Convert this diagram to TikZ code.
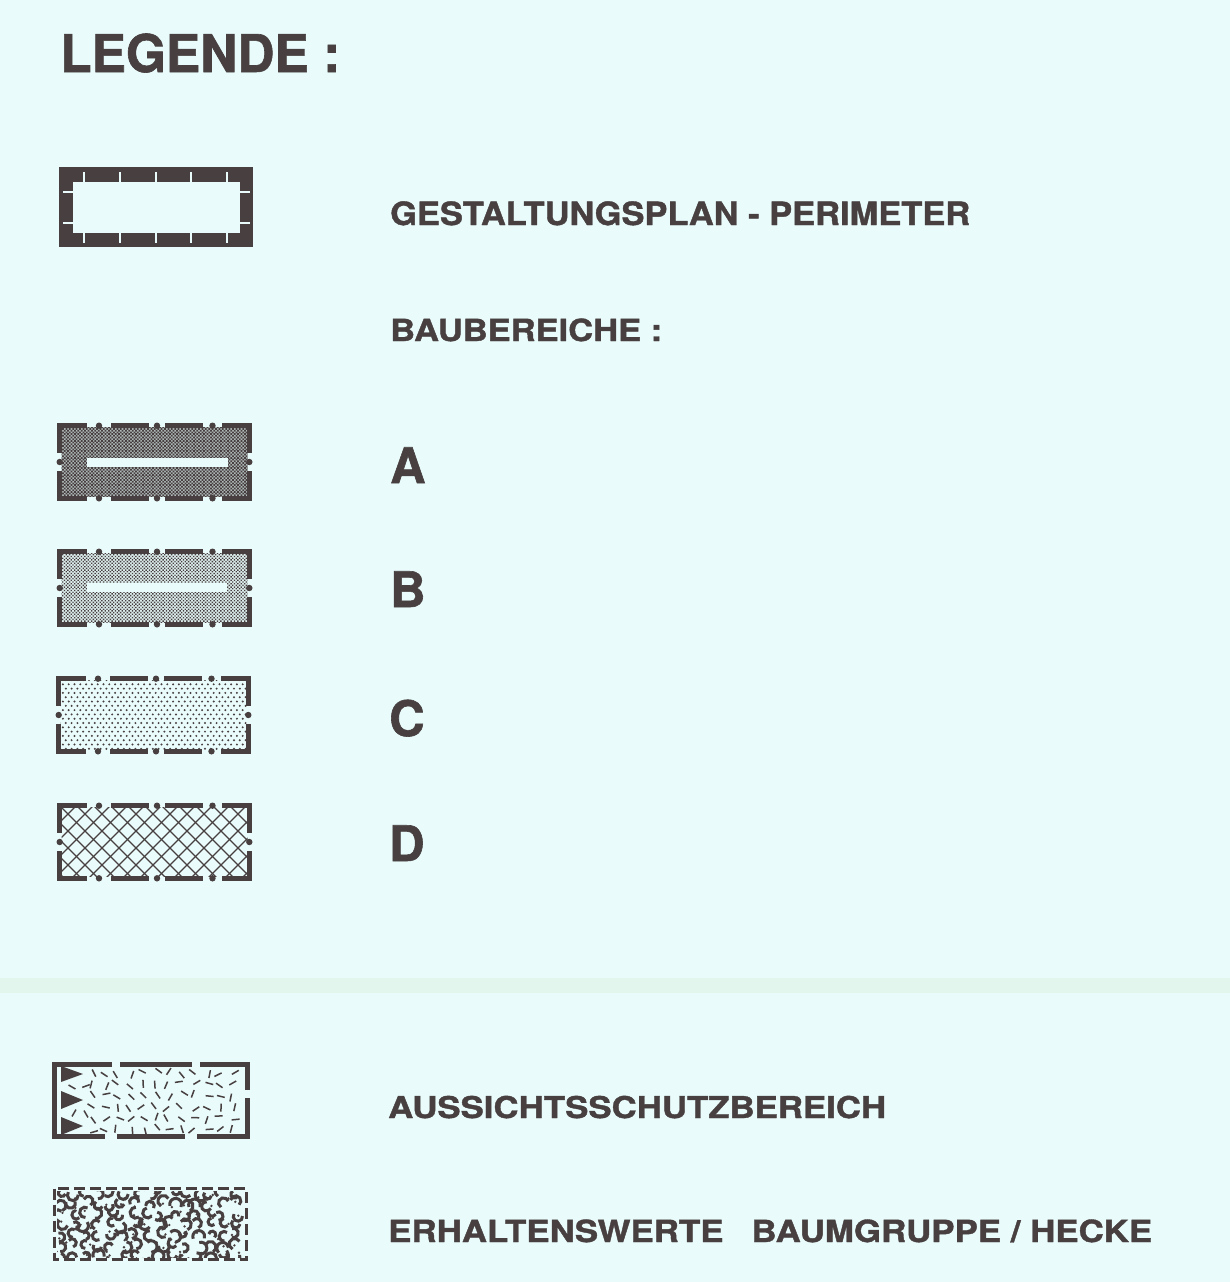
\documentclass[tikz,border=0pt]{standalone}
\usepackage{fontspec}
\setmainfont{TeX Gyre Heros}[BoldFeatures={FakeBold=1.2}]
\usepackage{graphicx}
\definecolor{bg}{RGB}{233,251,251}
\definecolor{band}{RGB}{226,246,238}
\definecolor{ink}{RGB}{72,64,64}
\tikzset{
  bord/.style={draw=ink,line width=5.4pt,line join=miter,line cap=butt},
  tickw/.style={draw=bg,line width=2.6pt},
  hatchl/.style={draw=ink,line width=1.2pt},
  strk/.style={draw=ink,line width=1.5pt},
  blob/.style={draw=ink,line width=3pt},
  lab/.style={anchor=base west,inner sep=0pt,text=ink,font=\bfseries}
}
\newcommand\ddborder[2]{%
\begin{scope}[shift={(#1,#2)}]
 \draw[bord] (30,2.7)--(2.7,2.7)--(2.7,30);
 \draw[bord] (165,2.7)--(192.3,2.7)--(192.3,30);
 \draw[bord] (30,75.3)--(2.7,75.3)--(2.7,48);
 \draw[bord] (165,75.3)--(192.3,75.3)--(192.3,48);
 \draw[bord] (54,2.7)--(92,2.7) (108,2.7)--(146,2.7);
 \draw[bord] (54,75.3)--(92,75.3) (108,75.3)--(146,75.3);
 \fill[ink] (42,2.7) circle (3.2) (100,2.7) circle (3.2) (155.5,2.7) circle (3.2)
            (42,75.3) circle (3.2) (100,75.3) circle (3.2) (155.5,75.3) circle (3.2)
            (2.7,39) circle (3.2) (192.3,39) circle (3.2);
\end{scope}}
% checker fill: #1 = top y, #2 = square size
\newcommand\checkfill[2]{%
 \foreach \j [evaluate=\j as \yy using {#1+\j*1.7}, evaluate=\j as \xo using {57+mod(\j,2)*1.7}] in {0,...,46}
  {\fill[ink] \foreach \i in {0,...,57} {(\xo+\i*3.4,\yy) rectangle ++(#2,#2)};}}
\begin{document}
\begin{tikzpicture}[x=1pt,y=-1pt]
\useasboundingbox (0,0) rectangle (1230,1282);
\fill[bg] (0,0) rectangle (1230,1282);
\fill[band] (0,978) rectangle (1230,993);

% ---------- texts
\node[lab] (legende) at (60,72) {\fontsize{52}{52}\selectfont\resizebox{280pt}{\height}{LEGENDE :}};
\node[lab] (perim) at (390,225) {\fontsize{32}{32}\selectfont\resizebox{580pt}{\height}{GESTALTUNGSPLAN - PERIMETER}};
\node[lab] (baub) at (390,341) {\fontsize{30.5}{30}\selectfont\resizebox{272pt}{\height}{BAUBEREICHE :}};
\node[lab] (la) at (390,483) {\fontsize{49}{49}\selectfont A};
\node[lab] (lb) at (390,607) {\fontsize{49}{49}\selectfont B};
\node[lab] (lc) at (389,736) {\fontsize{49}{49}\selectfont C};
\node[lab] (ld) at (389,861) {\fontsize{49}{49}\selectfont D};
\node[lab] (auss) at (388,1118) {\fontsize{30}{30}\selectfont\resizebox{498pt}{\height}{AUSSICHTSSCHUTZBEREICH}};
\node[lab] (erh) at (388,1242) {\fontsize{30.5}{30}\selectfont\resizebox{764pt}{\height}{ERHALTENSWERTE\hspace{0.8em}BAUMGRUPPE / HECKE}};

% ---------- perimeter symbol
\fill[ink] (59,167) rectangle (253,247);
\fill[bg] (73,182) rectangle (240,233);
\foreach \x in {84,120,156,191,227} {\draw[tickw] (\x,172)--(\x,183); \draw[tickw] (\x,232)--(\x,243);}
\foreach \y in {192,223} {\draw[tickw] (63,\y)--(74,\y); \draw[tickw] (239,\y)--(250,\y);}

% ---------- A
\begin{scope}
 \clip (61.5,427.5) rectangle (247.5,496.5);
 \fill[ink!35!bg] (57,423) rectangle (252,501);
 \checkfill{423}{1.75}
\end{scope}
\fill[bg] (87,458) rectangle (228,467);
\ddborder{57}{423}

% ---------- B
\begin{scope}
 \clip (61.5,553.5) rectangle (247.5,622.5);
 \fill[ink!8!bg] (57,549) rectangle (252,627);
 \checkfill{549}{1.35}
\end{scope}
\fill[bg] (87,583) rectangle (227,592);
\ddborder{57}{549}

% ---------- C
\begin{scope}
 \clip (60.5,680.5) rectangle (246.5,749.5);
 \foreach \j [evaluate=\j as \yy using {680+\j*4.3}, evaluate=\j as \xo using {60+mod(\j,2)*2.9}] in {0,...,17}
  {\fill[ink] \foreach \i in {0,...,33} {(\xo+\i*5.8,\yy) circle (1.1)};}
\end{scope}
\ddborder{56}{676}

% ---------- D
\begin{scope}
 \clip (61.5,807.5) rectangle (247.5,876.5);
 \foreach \k in {-102,-85,...,204} {\draw[hatchl] (57+\k,803)--++(80,80); \draw[hatchl] (57+\k+90,803)--++(-80,80);}
\end{scope}
\ddborder{57}{803}

% ---------- Aussichtsschutzbereich
\draw[bord,line width=5pt] (112,1064.5)--(54.5,1064.5)--(54.5,1136.5)--(105,1136.5);
\draw[bord,line width=5pt] (200,1064.5)--(247.5,1064.5)--(247.5,1090);
\draw[bord,line width=5pt] (247.5,1098)--(247.5,1136.5)--(197,1136.5);
\draw[bord,line width=5pt] (120,1064.5)--(192,1064.5) (117,1136.5)--(185,1136.5);
\fill[ink] (61,1066)--(83,1074)--(61,1082)--cycle
           (61,1091)--(83,1100)--(61,1109)--cycle
           (61,1117)--(83,1126)--(61,1135)--cycle;
\pgfmathsetseed{11}
\foreach \i in {0,...,11}{\foreach \j in {0,...,5}{
  \pgfmathsetmacro\cx{92+\i*12.8+rand*3}
  \pgfmathsetmacro\cy{1073+\j*11.3+rand*2.5}
  \pgfmathsetmacro\an{rnd*180}
  \draw[strk] (\cx,\cy) ++(\an:-4) -- ++(\an:8);
}}
\foreach \p/\an in {{(72,1087)}/30,{(74,1113)}/120,{(86,1086)}/160,{(86,1114)}/60,{(66,1128)}/90} {\draw[strk] \p ++(\an:-4) -- ++(\an:8);}

% ---------- Baumgruppe / Hecke
\draw[ink,line width=3.2pt,dash pattern=on 11pt off 5pt] (54.5,1188.5) rectangle (246.5,1259.5);
\pgfmathsetseed{5}
\begin{scope}
 \clip (57,1191) rectangle (244,1257);
 \foreach \i in {0,...,14}{\foreach \j in {0,...,6}{
  \pgfmathsetmacro\cx{60+\i*12.5+rand*4}
  \pgfmathsetmacro\cy{1193+\j*10.5+rand*3}
  \pgfmathsetmacro\rr{3.5+rnd*2.5}
  \pgfmathsetmacro\sa{rnd*360}
  \draw[blob] (\cx,\cy) ++(\sa:\rr) arc[start angle=\sa, delta angle=220, radius=\rr];
  \fill[ink] (\cx+rand*6,\cy+rand*5) circle (1.3);
 }}
\end{scope}
\end{tikzpicture}
\end{document}
